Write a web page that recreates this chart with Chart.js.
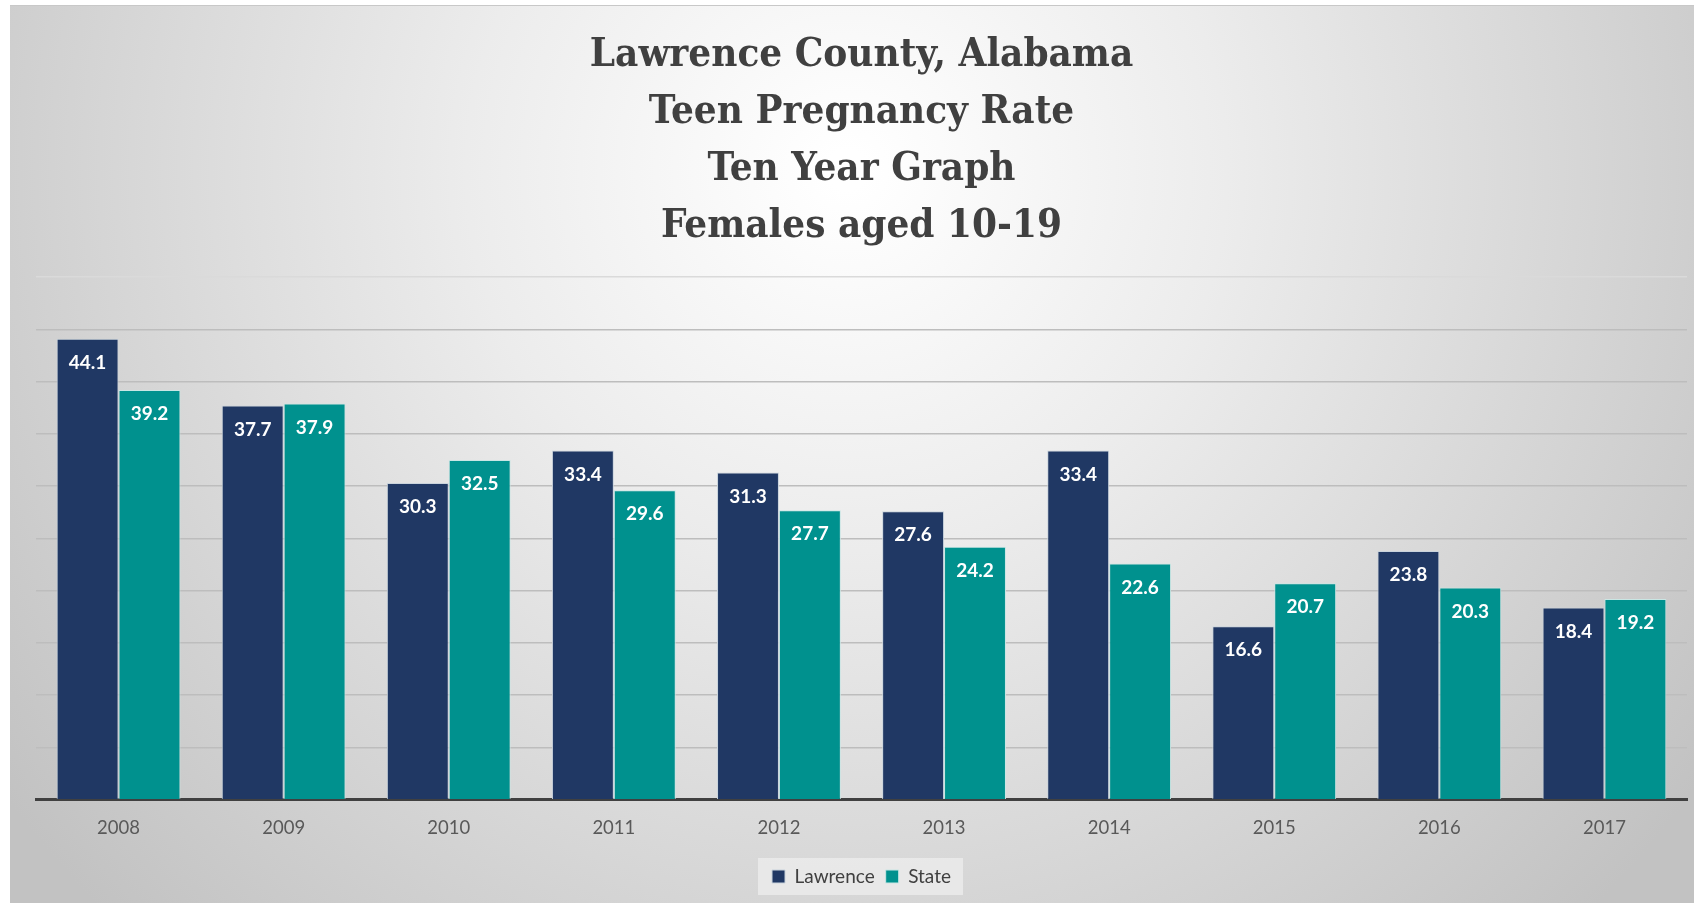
<!DOCTYPE html>
<html>
<head>
<meta charset="utf-8">
<script src="https://cdn.jsdelivr.net/npm/chart.js@4.4.1/dist/chart.umd.min.js"></script>
<style>
  html, body { margin: 0; padding: 0; background: #fff; }
  #wrap { width: 1694px; height: 903px; }
</style>
</head>
<body>
<div id="wrap"><canvas id="chart"></canvas></div>
<script>
// data
const years = ['2008', '2009', '2010', '2011', '2012', '2013', '2014', '2015', '2016', '2017'];
const lawrence = [44.1, 37.7, 30.3, 33.4, 31.3, 27.6, 33.4, 16.6, 23.8, 18.4];
const state = [39.2, 37.9, 32.5, 29.6, 27.7, 24.2, 22.6, 20.7, 20.3, 19.2];
const titleLines = ['Lawrence County, Alabama', 'Teen Pregnancy Rate', 'Ten Year Graph', 'Females aged 10-19'];

// background panel + legend box
const panelBg = {
    id: 'panelBg',
    beforeDraw(chart) {
        const ctx = chart.ctx;
        const w = chart.width, h = chart.height;
        ctx.save();
        ctx.fillStyle = '#ffffff';
        ctx.fillRect(0, 0, w, h);
        let g = ctx.createRadialGradient(w / 2, 170, 20, w / 2, 170, 1050);
        g.addColorStop(0, '#ffffff');
        g.addColorStop(0.35, '#ececec');
        g.addColorStop(1, '#c2c2c2');
        ctx.fillStyle = g;
        ctx.fillRect(10, 6, w - 10, h - 6);
        ctx.strokeStyle = '#c8c8c8';
        ctx.lineWidth = 1;
        ctx.beginPath();
        ctx.moveTo(10, 5.5);
        ctx.lineTo(w, 5.5);
        ctx.stroke();
        // legend background
        const lg = chart.legend;
        if (lg && lg.legendHitBoxes && lg.legendHitBoxes.length) {
            const first = lg.legendHitBoxes[0];
            const last = lg.legendHitBoxes[lg.legendHitBoxes.length - 1];
            ctx.fillStyle = 'rgba(235,235,235,0.85)';
            ctx.fillRect(first.left - 14, first.top - 9, last.left + last.width - first.left + 26, first.height + 18);
        }
        ctx.restore();
    }
};

// white value labels inside the bar tops
const barLabels = {
    id: 'barLabels',
    afterDatasetsDraw(chart) {
        const ctx = chart.ctx;
        ctx.save();
        ctx.fillStyle = '#ffffff';
        ctx.font = 'bold 19px Lato';
        ctx.textAlign = 'center';
        ctx.textBaseline = 'middle';
        chart.data.datasets.forEach(function(ds, i) {
            chart.getDatasetMeta(i).data.forEach(function(bar, j) {
                ctx.fillText(ds.data[j].toFixed(1), bar.x, bar.y + 24);
            });
        });
        ctx.restore();
    }
};

const container = document.getElementById('chart');
const graph = new Chart(container, {
    type: 'bar',
    data: {
        labels: years,
        datasets: [{
            label: 'Lawrence',
            data: lawrence,
            backgroundColor: '#203864',
            borderColor: '#c9d3dc',
            borderWidth: 1
        }, {
            label: 'State',
            data: state,
            backgroundColor: '#00918e',
            borderColor: '#c9e6e4',
            borderWidth: 1
        }]
    },
    plugins: [panelBg, barLabels],
    options: {
        responsive: true,
        maintainAspectRatio: false,
        animation: false,
        devicePixelRatio: 1,
        categoryPercentage: 0.75,
        barPercentage: 1,
        layout: {
            padding: {left: 36, right: 7, top: 0, bottom: 7}
        },
        plugins: {
            title: {
                display: true,
                text: titleLines,
                color: '#404040',
                font: {family: 'DejaVu Serif Condensed', size: 40, weight: 'bold', lineHeight: 1.425},
                padding: {top: 27, bottom: 22}
            },
            legend: {
                display: true,
                position: 'bottom',
                labels: {
                    color: '#404040',
                    font: {family: 'Lato', size: 19},
                    boxWidth: 13,
                    boxHeight: 13,
                    padding: 11
                }
            },
            tooltip: {enabled: false}
        },
        scales: {
            x: {
                grid: {display: false, drawTicks: false},
                border: {display: true, color: '#404040', width: 3},
                ticks: {color: '#595959', font: {family: 'Lato', size: 18.5}, padding: 17}
            },
            y: {
                min: 0,
                max: 50,
                ticks: {display: false, stepSize: 5},
                border: {display: false},
                grid: {
                    drawTicks: false,
                    lineWidth: 1.5,
                    color: function(c) { return c.tick && c.tick.value === 50 ? '#dadada' : '#bdbdbd'; }
                }
            }
        }
    }
});
</script>
</body>
</html>
